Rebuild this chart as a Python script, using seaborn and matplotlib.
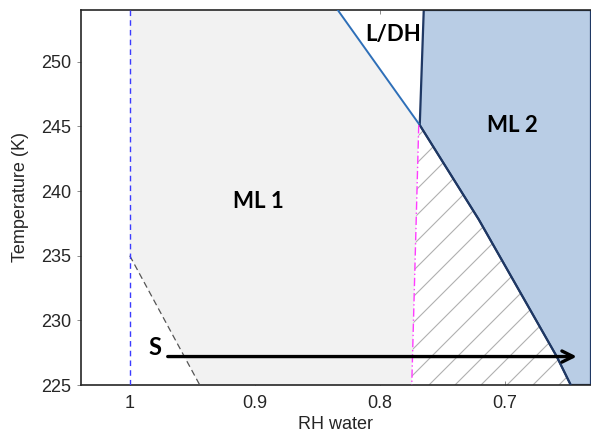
import matplotlib
matplotlib.use("Agg")
import matplotlib.pyplot as plt
from matplotlib.collections import LineCollection
import numpy as np
import seaborn as sns
import pandas as pd

# ---- data ----
rh_upper = [0.8336, 0.768]          # L/DH - ML1 boundary (upper part)
t_upper = [254.0, 245.1]
rh_lower = [0.768, 0.7208, 0.6584, 0.6472]   # ML2 lower-left boundary
t_lower = [245.1, 237.8, 227.2, 225.0]
rh_ml2_left = [0.7648, 0.768]       # ML2 left edge (L/DH side)
t_ml2_left = [254.0, 245.1]
rh_magenta = [0.7688, 0.7744]
t_magenta = [245.1, 225.0]
rh_grey = [1.0, 0.944]
t_grey = [235.0, 225.0]
rh_sat = 1.0
arrow_rh = [0.9696, 0.6424]
arrow_t = 227.2
labels = ["ML 1", "ML 2", "L/DH", "S"]
label_rh = [0.8968, 0.6936, 0.7896, 0.98]
label_t = [239.2, 245.1, 252.1, 227.9]

xlim = (1.039, 0.631)
ylim = (225.0, 254.0)

sns.set_theme(style="white")
plt.rcParams["font.family"] = ["Liberation Sans", "DejaVu Sans"]

W, H = 591, 436
fig = plt.figure(figsize=(W / 100, H / 100), dpi=100)
ax_l, ax_b = 81 / W, 1 - 385 / H
ax_w, ax_h = 1 - 81 / W, (385 - 10) / H
ax = fig.add_axes([ax_l, ax_b, ax_w, ax_h])

# ML1 region (light grey)
ml1_x = [1.0, rh_grey[0], rh_grey[1], rh_magenta[1], rh_magenta[0], rh_upper[0]]
ml1_y = [ylim[1], t_grey[0], t_grey[1], t_magenta[1], t_magenta[0], t_upper[0]]
ax.fill(ml1_x, ml1_y, facecolor="#f2f2f2", edgecolor="none", zorder=1)

# ML2 region (blue)
ml2_x = rh_ml2_left + rh_lower[1:] + [xlim[1], xlim[1]]
ml2_y = t_ml2_left + t_lower[1:] + [ylim[0], ylim[1]]
ax.fill(ml2_x, ml2_y, facecolor="#b9cde5", edgecolor="#1f3864", linewidth=1.6, zorder=2)

# hatched region (clip region + diagonal hatch lines ~26 px apart)
h_x = rh_magenta + rh_lower[::-1]
h_y = t_magenta + t_lower[::-1]
hatch_patch = ax.fill(h_x, h_y, facecolor="none", edgecolor="none", linewidth=0, zorder=1.5)[0]
pw, ph = ax_w * W, ax_h * H           # axes size in pixels
step = 26.0 / pw
rise = ph / pw                        # 45 degree lines in pixel space
offs = np.arange(-1.0, 1.0 + step, step)
segs = [[(o, 0.0), (o + rise, 1.0)] for o in offs]
lc = LineCollection(segs, colors="#b0b0b0", linewidths=0.8, transform=ax.transAxes, zorder=1.6)
lc.set_clip_path(hatch_patch)
ax.add_collection(lc, autolim=False)

# boundary lines
df_up = pd.DataFrame({"rh": rh_upper, "T": t_upper})
sns.lineplot(data=df_up, x="rh", y="T", sort=False, color="#2e6fb8", linewidth=1.4, ax=ax, zorder=3)
df_low = pd.DataFrame({"rh": rh_lower, "T": t_lower})
sns.lineplot(data=df_low, x="rh", y="T", sort=False, color="#1f3864", linewidth=1.4, ax=ax, zorder=3)
df_mag = pd.DataFrame({"rh": rh_magenta, "T": t_magenta})
sns.lineplot(data=df_mag, x="rh", y="T", sort=False, color="#ff3cff", linewidth=1.0,
             linestyle=(0, (6, 2, 1, 2)), ax=ax, zorder=3)
df_grey = pd.DataFrame({"rh": rh_grey, "T": t_grey})
sns.lineplot(data=df_grey, x="rh", y="T", sort=False, color="#555555", linewidth=0.9,
             linestyle=(0, (5, 3)), ax=ax, zorder=3)
ax.axvline(rh_sat, color="#3b3bff", linewidth=1.0, linestyle=(0, (4, 3)), zorder=3)

# arrow
ax.annotate("", xy=(arrow_rh[1], arrow_t), xytext=(arrow_rh[0], arrow_t),
            arrowprops=dict(arrowstyle="->", color="black", lw=2.4, mutation_scale=20,
                            shrinkA=0, shrinkB=0), zorder=5)

for lab, x, y in zip(labels, label_rh, label_t):
    ax.text(x, y, lab, ha="center", va="center", fontsize=17 if lab == "S" else 16,
            fontweight="bold", family=["Lato", "DejaVu Sans"], color="black", zorder=6)

ax.set_xlim(*xlim)
ax.set_ylim(*ylim)
ax.set_xticks([1.0, 0.9, 0.8, 0.7])
ax.set_xticklabels(["1", "0.9", "0.8", "0.7"])
ax.set_yticks([225, 230, 235, 240, 245, 250])
ax.set_xlabel("RH water", fontsize=13, color="#262626", labelpad=3)
ax.set_ylabel("Temperature (K)", fontsize=13, color="#262626", labelpad=9)
ax.tick_params(axis="both", labelsize=13, colors="#262626")
ax.tick_params(axis="y", direction="out", length=3, width=0.6, left=True, color="#777777", pad=4)
ax.tick_params(axis="x", direction="in", length=3, width=0.6, bottom=True, top=True,
               color="#777777", pad=7)

for side in ["left", "bottom", "top"]:
    ax.spines[side].set_color("#262626")
    ax.spines[side].set_linewidth(1.2)
ax.spines["right"].set_visible(False)

fig.savefig("out.png", dpi=100)
